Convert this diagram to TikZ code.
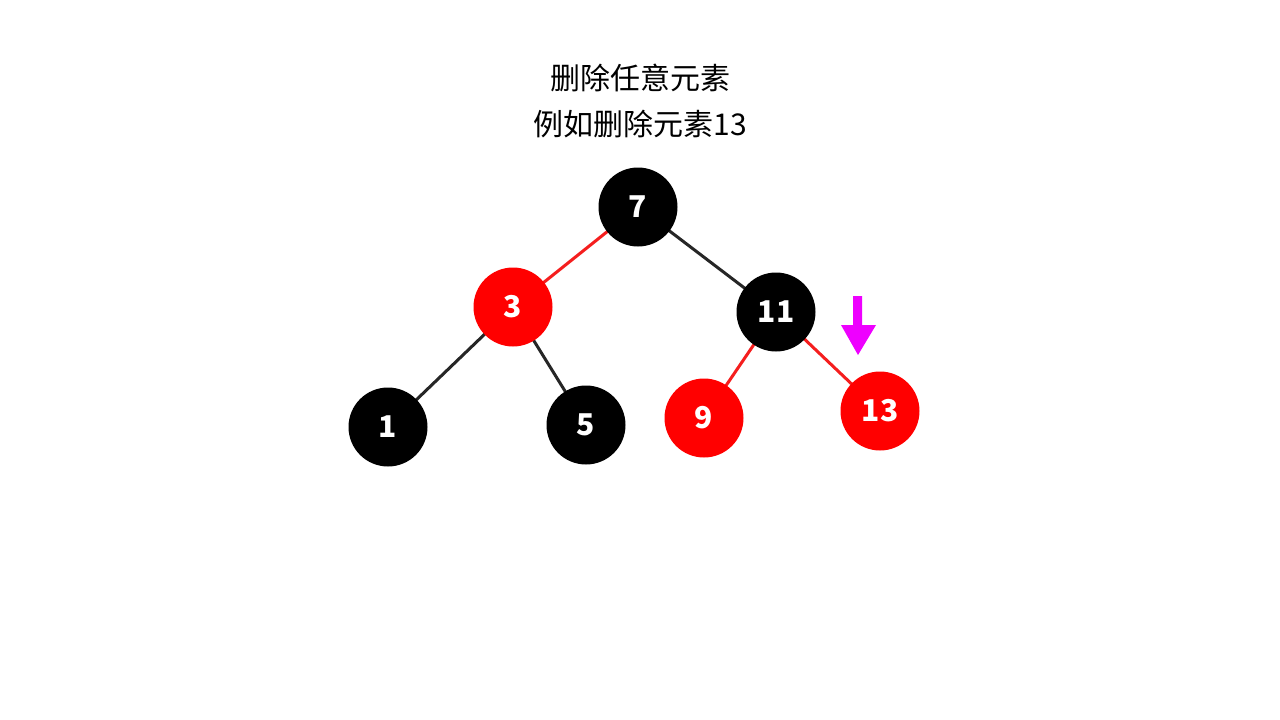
\documentclass[tikz,border=0pt]{standalone}
\usepackage{fontspec}
\newfontfamily\cjk{Noto Sans CJK SC}
\definecolor{arrowmag}{RGB}{238,0,255}
\definecolor{edgered}{RGB}{245,30,30}
\begin{document}
\begin{tikzpicture}[x=1pt,y=-1pt,
  rb/.style={circle,minimum size=79pt,inner sep=0pt,text=white,font=\cjk\bfseries\fontsize{30}{32}\selectfont},
  blk/.style={rb,fill=black},
  rd/.style={rb,fill=red},
  redge/.style={draw=edgered,line width=3pt},
  bedge/.style={draw=black!85,line width=3pt},
  title/.style={font=\cjk\fontsize{30}{34}\selectfont,text=black}]
\useasboundingbox (0,0) rectangle (1280,720);
\fill[white] (0,0) rectangle (1280,720);
\node[title] (t1) at (640,78) {删除任意元素};
\node[title] (t2) at (640,124) {例如删除元素13};
\coordinate (c7) at (638,207);
\coordinate (c3) at (513,307);
\coordinate (c11) at (776,312);
\coordinate (c1) at (388,427);
\coordinate (c5) at (586,425);
\coordinate (c9) at (704,418);
\coordinate (c13) at (880,411);
\draw[redge] (c7) -- (c3);
\draw[bedge] (c7) -- (c11);
\draw[bedge] (c3) -- (c1);
\draw[bedge] (c3) -- (c5);
\draw[redge] (c11) -- (c9);
\draw[redge] (c11) -- (c13);
\node[blk] (n7) at (c7) {7};
\node[rd] (n3) at (c3) {3};
\node[blk] (n11) at (c11) {11};
\node[blk] (n1) at (c1) {1};
\node[blk] (n5) at (c5) {5};
\node[rd] (n9) at (c9) {9};
\node[rd] (n13) at (c13) {13};
\fill[arrowmag] (853,296) -- (862,296) -- (862,325) -- (876,325) -- (858,355) -- (841,325) -- (853,325) -- cycle;
\end{tikzpicture}
\end{document}
